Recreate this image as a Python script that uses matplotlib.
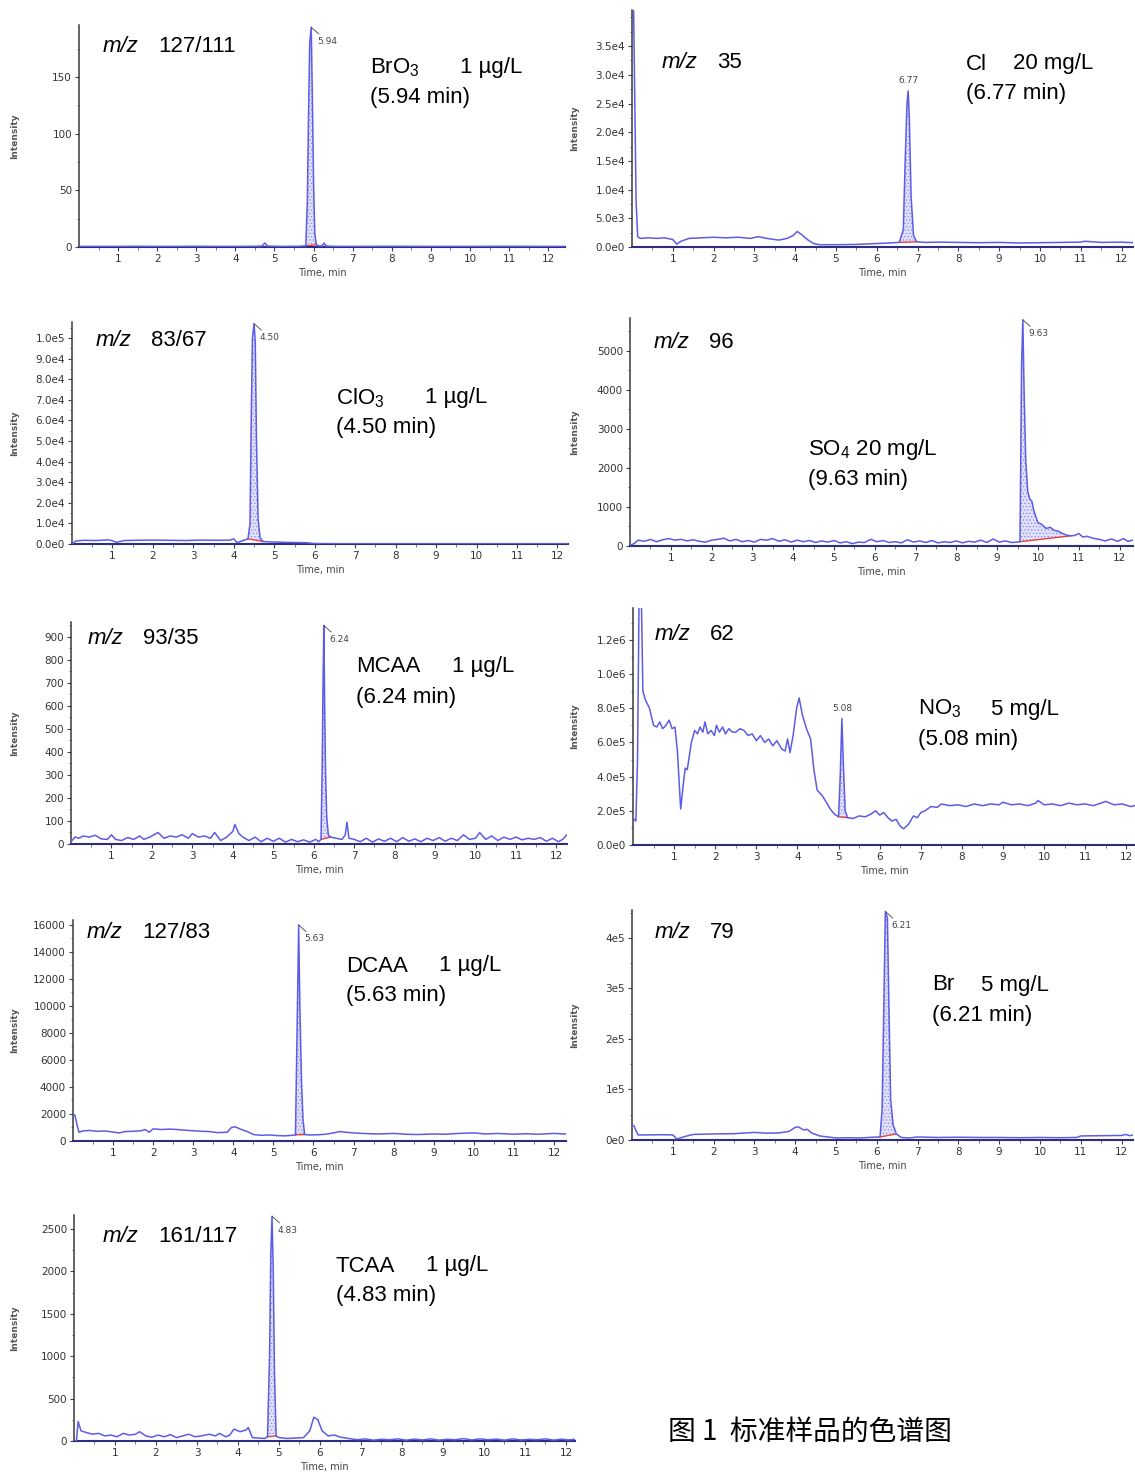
import numpy as np
import matplotlib
matplotlib.use('Agg')
import matplotlib.pyplot as plt
from matplotlib import font_manager as fm

plt.rcParams['font.family'] = ['Liberation Sans', 'DejaVu Sans']
plt.rcParams['mathtext.fontset'] = 'custom'
plt.rcParams['mathtext.rm'] = 'Liberation Sans'
plt.rcParams['mathtext.it'] = 'Liberation Sans:italic'
plt.rcParams['hatch.linewidth'] = 0.4

_names = {f.name for f in fm.fontManager.ttflist}
TICKFONT = 'Liberation Sans Narrow' if 'Liberation Sans Narrow' in _names else 'DejaVu Sans'

W, H = 1135, 1479
LINE = '#5c5ce6'

# ---------------- data ----------------
# BrO3, m/z 127/111
t_bro3 = [0, 0.5, 1, 1.5, 2, 2.5, 3, 3.5, 4, 4.5, 4.68, 4.75, 4.82, 5.2, 5.6, 5.8, 5.84, 5.87, 5.9,
          5.94, 5.97, 6.0, 6.03, 6.07, 6.15, 6.22, 6.27, 6.32, 6.6, 7, 8, 9, 10, 11, 12, 12.43]
i_bro3 = [0.5, 0.5, 0.5, 0.6, 0.5, 0.5, 0.6, 0.5, 0.5, 0.6, 0.8, 3.5, 0.8, 0.5, 0.6, 1, 40, 115, 180,
          194, 128, 55, 12, 2, 0.8, 1, 3.5, 0.8, 0.5, 0.5, 0.6, 0.5, 0.5, 0.6, 0.5, 0.5]

# Cl, m/z 35
t_cl = [0.0, 0.04, 0.1, 0.14, 0.2, 0.4, 0.6, 0.8, 1.0, 1.1, 1.2, 1.4, 1.7, 2.0, 2.3, 2.6, 2.9, 3.1, 3.3,
        3.6, 3.8, 3.95, 4.05, 4.15, 4.3, 4.45, 4.6, 5.0, 5.5, 6.0, 6.3, 6.55, 6.65, 6.7, 6.74, 6.77, 6.8,
        6.84, 6.9, 6.98, 7.2, 7.5, 8, 8.5, 9, 9.5, 10, 10.5, 11, 11.1, 11.5, 12, 12.28]
i_cl = [42000, 41000, 8000, 1800, 1500, 1600, 1500, 1600, 1300, 500, 1000, 1500, 1600, 1700, 1600, 1700,
        1500, 1800, 1500, 1200, 1500, 2000, 2700, 2200, 1300, 600, 400, 400, 450, 600, 700, 800, 3000,
        16000, 25000, 27200, 22000, 9000, 2000, 900, 800, 850, 800, 750, 800, 700, 750, 800, 850, 1000,
        800, 850, 750]

# ClO3, m/z 83/67
t_clo3 = [0, 0.1, 0.3, 0.6, 0.9, 1.0, 1.1, 1.3, 1.6, 2.0, 2.4, 2.8, 3.2, 3.6, 3.9, 4.0, 4.08, 4.2, 4.35,
          4.4, 4.43, 4.46, 4.5, 4.53, 4.56, 4.6, 4.65, 4.72, 4.9, 5.3, 5.8, 6.0, 7, 8, 9, 10, 11, 12.26]
i_clo3 = [0, 1500, 1800, 1700, 2000, 1600, 800, 1700, 1800, 1900, 1800, 1700, 1900, 1800, 1900, 2500,
          600, 1500, 2500, 10000, 60000, 100000, 107000, 98000, 50000, 12000, 3000, 1200, 1000, 800, 600,
          200, 100, 100, 100, 100, 100, 100]

# SO4, m/z 96
t_so4 = [0, 0.1, 0.2, 0.35, 0.5, 0.65, 0.8, 0.95, 1.1, 1.25, 1.4, 1.55, 1.7, 1.85, 2.0, 2.15, 2.3, 2.45,
         2.6, 2.75, 2.9, 3.05, 3.2, 3.35, 3.5, 3.65, 3.8, 3.95, 4.1, 4.25, 4.4, 4.55, 4.7, 4.85, 5.0, 5.15,
         5.3, 5.45, 5.6, 5.75, 5.9, 6.05, 6.2, 6.35, 6.5, 6.65, 6.8, 6.95, 7.1, 7.25, 7.4, 7.55, 7.7, 7.85,
         8.0, 8.15, 8.3, 8.45, 8.6, 8.75, 8.9, 9.05, 9.2, 9.35, 9.5, 9.56, 9.6, 9.63, 9.66, 9.7, 9.75, 9.8,
         9.85, 9.9, 10.0, 10.1, 10.2, 10.3, 10.4, 10.5, 10.6, 10.7, 10.8, 10.9, 11.0, 11.1, 11.2, 11.35,
         11.5, 11.65, 11.8, 11.95, 12.1, 12.2, 12.33]
i_so4 = [20, 60, 150, 120, 170, 110, 160, 190, 150, 170, 130, 160, 120, 100, 150, 170, 200, 130,
         170, 110, 140, 100, 170, 150, 190, 120, 160, 100, 150, 110, 140, 90, 130, 100, 140, 80,
         110, 60, 100, 90, 170, 110, 140, 90, 110, 80, 160, 100, 130, 90, 140, 80, 110, 90,
         130, 80, 120, 100, 150, 90, 180, 100, 130, 90, 100, 110, 4700, 5800, 4000, 2200, 1400, 1200,
         1150, 900, 600, 550, 450, 480, 400, 380, 320, 280, 260, 270, 320, 230, 250, 200,
         170, 130, 180, 120, 190, 120, 150]

# MCAA, m/z 93/35
t_mcaa = [0, 0.1, 0.2, 0.3, 0.45, 0.6, 0.75, 0.9, 1.0, 1.1, 1.25, 1.4, 1.55, 1.7, 1.8, 1.95, 2.15, 2.3,
          2.45, 2.6, 2.75, 2.9, 3.0, 3.15, 3.3, 3.45, 3.55, 3.7, 3.85, 4.0, 4.05, 4.15, 4.25, 4.4, 4.55,
          4.7, 4.85, 5.0, 5.15, 5.3, 5.45, 5.6, 5.75, 5.9, 6.05, 6.12, 6.18, 6.21, 6.23, 6.25, 6.27, 6.29,
          6.32, 6.36, 6.42, 6.55, 6.7, 6.78, 6.82, 6.87, 7.0, 7.15, 7.3, 7.45, 7.6, 7.75, 7.9, 8.05, 8.2,
          8.35, 8.5, 8.65, 8.8, 8.95, 9.1, 9.25, 9.4, 9.55, 9.7, 9.85, 10.0, 10.1, 10.25, 10.4, 10.55,
          10.7, 10.85, 11.0, 11.15, 11.3, 11.45, 11.6, 11.75, 11.9, 12.05, 12.15, 12.26]
i_mcaa = [10, 30, 25, 35, 30, 38, 22, 20, 40, 20, 15, 28, 20, 35, 20, 30, 50, 25,
          35, 30, 40, 25, 45, 30, 35, 25, 50, 15, 30, 55, 85, 45, 30, 15, 30,
          10, 25, 12, 25, 8, 20, 10, 18, 8, 20, 10, 20, 350, 700, 950, 600, 330,
          120, 40, 30, 25, 20, 40, 95, 25, 20, 10, 25, 8, 22, 12, 25, 10, 28,
          12, 22, 10, 25, 15, 28, 12, 25, 15, 40, 20, 25, 50, 20, 35, 15,
          30, 20, 30, 18, 25, 20, 28, 12, 25, 10, 20, 40]

# NO3, m/z 62
t_no3 = [0.03, 0.07, 0.11, 0.15, 0.2, 0.24, 0.3, 0.4, 0.5, 0.58, 0.65, 0.72, 0.8, 0.88, 0.95, 1.02, 1.08,
         1.16, 1.22, 1.27, 1.32, 1.42, 1.5, 1.57, 1.63, 1.7, 1.75, 1.82, 1.9, 1.98, 2.03, 2.1, 2.18, 2.25,
         2.33, 2.42, 2.5, 2.6, 2.7, 2.8, 2.9, 3.0, 3.1, 3.2, 3.3, 3.4, 3.5, 3.62, 3.7, 3.76, 3.82, 3.9,
         3.98, 4.04, 4.12, 4.22, 4.32, 4.4, 4.48, 4.6, 4.7, 4.8, 4.9, 5.0, 5.04, 5.08, 5.12, 5.16, 5.22,
         5.35, 5.5, 5.65, 5.78, 5.9, 6.0, 6.1, 6.2, 6.3, 6.4, 6.5, 6.58, 6.7, 6.82, 6.92, 7.0, 7.1, 7.25,
         7.4, 7.5, 7.7, 7.9, 8.1, 8.3, 8.5, 8.7, 8.9, 9.0, 9.2, 9.4, 9.6, 9.8, 9.85, 10.0, 10.2, 10.4,
         10.6, 10.8, 11.0, 11.2, 11.5, 11.7, 11.9, 12.1, 12.21]
i_no3 = [150000, 140000, 500000, 1500000, 1500000, 900000, 850000, 800000, 700000, 690000, 720000,
         680000, 700000, 730000, 680000, 690000, 550000, 210000, 350000, 450000, 440000, 600000, 670000,
         650000, 690000, 660000, 720000, 650000, 670000, 640000, 700000, 660000, 690000, 650000, 680000,
         660000, 660000, 680000, 670000, 640000, 650000, 610000, 640000, 600000, 620000, 580000, 610000,
         560000, 550000, 620000, 540000, 650000, 800000, 860000, 760000, 680000, 620000, 440000, 320000,
         290000, 250000, 210000, 180000, 165000, 400000, 740000, 450000, 200000, 160000, 155000, 170000,
         165000, 180000, 200000, 175000, 190000, 160000, 140000, 150000, 110000, 95000, 120000, 170000,
         160000, 190000, 200000, 225000, 220000, 240000, 230000, 235000, 225000, 240000, 230000, 240000,
         235000, 250000, 235000, 240000, 230000, 245000, 260000, 235000, 240000, 230000, 245000, 235000,
         240000, 230000, 255000, 235000, 240000, 225000, 230000]

# DCAA, m/z 127/83
t_dcaa = [0, 0.05, 0.1, 0.15, 0.25, 0.4, 0.6, 0.8, 1.0, 1.15, 1.3, 1.5, 1.7, 1.8, 1.9, 2.0, 2.2, 2.4, 2.6,
          2.8, 3.0, 3.2, 3.4, 3.6, 3.85, 3.95, 4.05, 4.2, 4.35, 4.5, 4.7, 4.9, 5.1, 5.3, 5.45, 5.55, 5.59,
          5.63, 5.66, 5.7, 5.74, 5.78, 5.9, 6.1, 6.3, 6.5, 6.65, 6.8, 7.0, 7.3, 7.6, 8.0, 8.3, 8.6, 9.0,
          9.3, 9.6, 10.0, 10.3, 10.6, 11.0, 11.3, 11.6, 12.0, 12.3]
i_dcaa = [2000, 1900, 1200, 650, 750, 780, 720, 740, 660, 600, 700, 720, 760, 850, 650, 900, 850, 880,
          850, 800, 760, 720, 700, 620, 650, 1000, 1050, 850, 700, 480, 420, 450, 400, 380, 420, 450,
          8000, 16000, 10000, 4500, 1500, 480, 450, 460, 500, 600, 700, 650, 600, 550, 520, 560, 500,
          480, 520, 500, 560, 600, 520, 560, 500, 540, 500, 560, 520]

# Br, m/z 79
t_br = [0, 0.05, 0.1, 0.15, 0.4, 0.7, 1.0, 1.05, 1.1, 1.3, 1.5, 2.0, 2.5, 2.8, 3.0, 3.3, 3.6, 3.85, 4.0,
        4.08, 4.2, 4.3, 4.4, 4.6, 4.8, 5.0, 5.3, 5.6, 5.9, 6.08, 6.13, 6.17, 6.21, 6.26, 6.3, 6.34, 6.4,
        6.48, 6.6, 6.8, 7.0, 7.5, 8.0, 8.5, 9.0, 9.5, 10.0, 10.5, 10.9, 11.0, 11.5, 12.0, 12.1, 12.2, 12.28]
i_br = [30000, 28000, 18000, 10000, 10000, 10500, 10000, 6000, 2000, 7000, 11000, 12000, 12500, 14000,
        15000, 13500, 14000, 17000, 25000, 26000, 20000, 21000, 14000, 8000, 6000, 4000, 4500, 4000,
        5500, 6000, 60000, 250000, 452000, 440000, 250000, 80000, 30000, 12000, 5000, 4000, 6000, 5000,
        5500, 5000, 5000, 4500, 5000, 4500, 5000, 8000, 8500, 9000, 11000, 8500, 10000]

# TCAA, m/z 161/117
t_tcaa = [0, 0.06, 0.1, 0.17, 0.3, 0.45, 0.6, 0.75, 0.9, 1.05, 1.2, 1.35, 1.5, 1.6, 1.75, 1.9, 2.05, 2.2,
          2.35, 2.5, 2.65, 2.8, 2.95, 3.1, 3.3, 3.45, 3.55, 3.7, 3.8, 3.9, 4.05, 4.2, 4.25, 4.35, 4.5,
          4.65, 4.72, 4.77, 4.8, 4.83, 4.86, 4.89, 4.93, 5.0, 5.2, 5.4, 5.6, 5.75, 5.85, 5.95, 6.05, 6.2,
          6.35, 6.5, 6.7, 6.9, 7.1, 7.3, 7.5, 7.7, 7.9, 8.1, 8.3, 8.5, 8.7, 8.9, 9.1, 9.3, 9.5, 9.7, 9.9,
          10.1, 10.3, 10.5, 10.7, 10.9, 11.1, 11.3, 11.5, 11.7, 11.9, 12.05, 12.22]
i_tcaa = [0, 5, 230, 120, 100, 80, 90, 60, 70, 50, 90, 70, 80, 110, 60, 45, 70, 50,
          75, 40, 60, 80, 50, 60, 80, 60, 90, 50, 70, 140, 110, 130, 160, 40, 35,
          30, 50, 1000, 2200, 2650, 2000, 800, 60, 40, 30, 35, 40, 120, 280, 250, 120, 60,
          70, 45, 30, 15, 25, 10, 20, 15, 25, 10, 22, 12, 25, 10, 20, 15, 28, 12, 25,
          15, 22, 10, 25, 12, 20, 15, 25, 10, 22, 12, 20]

# y tick labels as printed on each panel
yt_bro3 = [0, 50, 100, 150]
yl_bro3 = ['0', '50', '100', '150']
yt_cl = [0, 5e3, 1e4, 1.5e4, 2e4, 2.5e4, 3e4, 3.5e4]
yl_cl = ['0.0e0', '5.0e3', '1.0e4', '1.5e4', '2.0e4', '2.5e4', '3.0e4', '3.5e4']
yt_clo3 = [i * 1e4 for i in range(11)]
yl_clo3 = ['0.0e0'] + ['%d.0e4' % i for i in range(1, 10)] + ['1.0e5']
yt_so4 = [0, 1000, 2000, 3000, 4000, 5000]
yl_so4 = ['0', '1000', '2000', '3000', '4000', '5000']
yt_mcaa = list(range(0, 1000, 100))
yl_mcaa = [str(v) for v in yt_mcaa]
yt_no3 = [0, 2e5, 4e5, 6e5, 8e5, 1e6, 1.2e6]
yl_no3 = ['0.0e0', '2.0e5', '4.0e5', '6.0e5', '8.0e5', '1.0e6', '1.2e6']
yt_dcaa = list(range(0, 16001, 2000))
yl_dcaa = [str(v) for v in yt_dcaa]
yt_br = [0, 1e5, 2e5, 3e5, 4e5]
yl_br = ['0e0', '1e5', '2e5', '3e5', '4e5']
yt_tcaa = [0, 500, 1000, 1500, 2000, 2500]
yl_tcaa = ['0', '500', '1000', '1500', '2000', '2500']

# panel definitions: pixel box (left, right, top, bottom), limits, labels
panels = [
    dict(t=t_bro3, i=i_bro3, box=(79, 565, 25, 247), xmax=12.43, ymax=196, yt=yt_bro3, yl=yl_bro3,
         win=(5.8, 6.07), rt='5.94', rt_at=(5.94, 194), rt_side=True,
         mz='127/111', mz_xy=(103, 47), name=r'BrO$_3$', conc='1 µg/L', name_x=370, conc_x=460,
         ret='(5.94 min)', lab_y=68),
    dict(t=t_cl, i=i_cl, box=(632, 1133, 10, 247), xmax=12.28, ymax=41300, yt=yt_cl, yl=yl_cl,
         win=(6.55, 6.98), rt='6.77', rt_at=(6.77, 27200), rt_side=False,
         mz='35', mz_xy=(662, 62), name='Cl', conc='20 mg/L', name_x=966, conc_x=1013,
         ret='(6.77 min)', lab_y=64),
    dict(t=t_clo3, i=i_clo3, box=(72, 568, 322, 544), xmax=12.26, ymax=107800, yt=yt_clo3, yl=yl_clo3,
         win=(4.35, 4.72), rt='4.50', rt_at=(4.5, 107000), rt_side=True,
         mz='83/67', mz_xy=(96, 340), name=r'ClO$_3$', conc='1 µg/L', name_x=336, conc_x=425,
         ret='(4.50 min)', lab_y=398),
    dict(t=t_so4, i=i_so4, box=(630, 1133, 318, 546), xmax=12.33, ymax=5846, yt=yt_so4, yl=yl_so4,
         win=(9.56, 10.8), rt='9.63', rt_at=(9.63, 5800), rt_side=True,
         mz='96', mz_xy=(654, 342), name=r'SO$_4$ 20 mg/L', conc='', name_x=808, conc_x=0,
         ret='(9.63 min)', lab_y=450),
    dict(t=t_mcaa, i=i_mcaa, box=(71, 567, 622, 844), xmax=12.26, ymax=965, yt=yt_mcaa, yl=yl_mcaa,
         win=(6.18, 6.42), rt='6.24', rt_at=(6.25, 950), rt_side=True,
         mz='93/35', mz_xy=(88, 638), name='MCAA', conc='1 µg/L', name_x=356, conc_x=452,
         ret='(6.24 min)', lab_y=667),
    dict(t=t_no3, i=i_no3, box=(633, 1135, 608, 845), xmax=12.21, ymax=1386000, yt=yt_no3, yl=yl_no3,
         win=(5.0, 5.22), rt='5.08', rt_at=(5.08, 740000), rt_side=False,
         mz='62', mz_xy=(655, 634), name=r'NO$_3$', conc='5 mg/L', name_x=918, conc_x=991,
         ret='(5.08 min)', lab_y=709),
    dict(t=t_dcaa, i=i_dcaa, box=(73, 566, 920, 1141), xmax=12.3, ymax=16370, yt=yt_dcaa, yl=yl_dcaa,
         win=(5.55, 5.78), rt='5.63', rt_at=(5.63, 16000), rt_side=True,
         mz='127/83', mz_xy=(87, 932), name='DCAA', conc='1 µg/L', name_x=346, conc_x=439,
         ret='(5.63 min)', lab_y=966),
    dict(t=t_br, i=i_br, box=(632, 1133, 910, 1140), xmax=12.28, ymax=455000, yt=yt_br, yl=yl_br,
         win=(6.08, 6.48), rt='6.21', rt_at=(6.21, 452000), rt_side=True,
         mz='79', mz_xy=(655, 932), name='Br', conc='5 mg/L', name_x=932, conc_x=981,
         ret='(6.21 min)', lab_y=985),
    dict(t=t_tcaa, i=i_tcaa, box=(74, 575, 1215, 1441), xmax=12.22, ymax=2665, yt=yt_tcaa, yl=yl_tcaa,
         win=(4.72, 4.93), rt='4.83', rt_at=(4.83, 2650), rt_side=True,
         mz='161/117', mz_xy=(103, 1236), name='TCAA', conc='1 µg/L', name_x=336, conc_x=426,
         ret='(4.83 min)', lab_y=1266),
]


def fx(x):
    return x / W


def fy(y):
    return 1 - y / H


fig = plt.figure(figsize=(W / 100, H / 100), dpi=100)

for p in panels:
    l, r, top, b = p['box']
    ax = fig.add_axes([fx(l), fy(b), (r - l) / W, (b - top) / H])
    t = np.array(p['t'], dtype=float)
    y = np.array(p['i'], dtype=float)

    # integrated peak area: hatched fill above a red baseline
    a, z = p['win']
    ya, yz = np.interp(a, t, y), np.interp(z, t, y)
    m = (t >= a) & (t <= z)
    tt = np.concatenate([[a], t[m], [z]])
    yy = np.concatenate([[ya], y[m], [yz]])
    base = np.interp(tt, [a, z], [ya, yz])
    ax.fill_between(tt, base, yy, facecolor='#e0e0fa', edgecolor='#7a7ae8', hatch='.....', lw=0, zorder=1)
    ax.plot([a, z], [ya, yz], color='#e8403a', lw=1.0, zorder=2)

    ax.plot(t, y, color=LINE, lw=1.1, zorder=3, clip_on=True)

    ax.set_xlim(0, p['xmax'])
    ax.set_ylim(0, p['ymax'])
    ax.set_xticks(range(1, 13))
    ax.set_xticks(np.arange(0.5, p['xmax'], 0.5), minor=True)
    ax.set_yticks(p['yt'])
    ax.set_yticklabels(p['yl'])
    step = p['yt'][1] - p['yt'][0]
    ax.set_yticks(np.arange(step / 2, p['ymax'], step / 2), minor=True)
    for s in ['top', 'right']:
        ax.spines[s].set_visible(False)
    for s in ['left', 'bottom']:
        ax.spines[s].set_color('#3a3a3a')
        ax.spines[s].set_linewidth(1.1)
    ax.spines['bottom'].set_color('#2e2e80')
    ax.spines['bottom'].set_linewidth(1.5)
    ax.tick_params(which='major', length=3, width=0.8, color='#444444', labelsize=7.5,
                   labelcolor='#333333', pad=2)
    ax.tick_params(which='minor', length=1.8, width=0.6, color='#666666')
    for lab in ax.get_xticklabels() + ax.get_yticklabels():
        lab.set_family(TICKFONT)
    ax.set_xlabel('Time, min', fontsize=7, color='#444444', labelpad=3, family=TICKFONT)
    ax.patch.set_alpha(0)

    # retention time flag on the peak
    if p['rt_side']:
        ax.annotate(p['rt'], xy=p['rt_at'], xytext=(4, -10), textcoords='offset points',
                    fontsize=6.5, color='#444444', ha='left', va='center', family=TICKFONT,
                    arrowprops=dict(arrowstyle='-', color='#444444', lw=0.6, shrinkA=0, shrinkB=0))
    else:
        ax.annotate(p['rt'], xy=p['rt_at'], xytext=(0, 4), textcoords='offset points',
                    fontsize=6.5, color='#444444', ha='center', va='bottom', family=TICKFONT)

    # y axis label
    ylx = 15 if l < 300 else 575
    fig.text(fx(ylx), fy((top + b) / 2), 'Intensity', rotation=90, fontsize=6.5, fontweight='bold',
             color='#555555', ha='center', va='center', family=TICKFONT)

    # m/z label
    mx, my = p['mz_xy']
    fig.text(fx(mx), fy(my), 'm/z', style='italic', fontsize=16, ha='left', va='center')
    fig.text(fx(mx + 55), fy(my), p['mz'], fontsize=16, ha='left', va='center')

    # compound, concentration and retention time
    fig.text(fx(p['name_x']), fy(p['lab_y']), p['name'], fontsize=16, ha='left', va='center')
    if p['conc']:
        fig.text(fx(p['conc_x']), fy(p['lab_y']), p['conc'], fontsize=16, ha='left', va='center')
    fig.text(fx(p['name_x']), fy(p['lab_y'] + 30), p['ret'], fontsize=16, ha='left', va='center')

fig.text(fx(668), fy(1432), '图 1  标准样品的色谱图', fontsize=20, ha='left', va='center',
         family=['Noto Sans CJK SC', 'DejaVu Sans'])

fig.savefig('out.png', dpi=100)
